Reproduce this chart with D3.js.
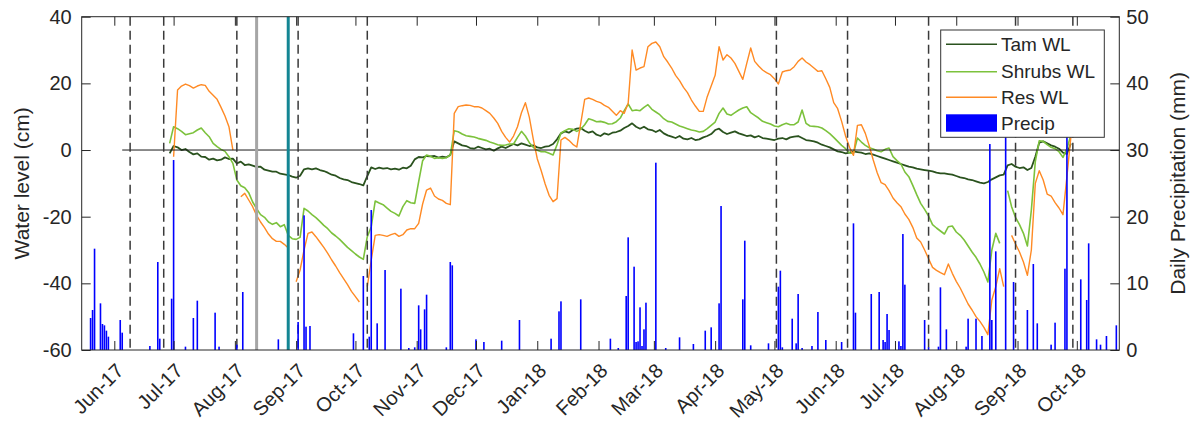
<!DOCTYPE html>
<html><head><meta charset="utf-8">
<script src="https://cdn.jsdelivr.net/npm/d3@7"></script>
<style>
body{margin:0;background:#fff;}
svg text{font-family:"Liberation Sans",Arial,Helvetica,sans-serif;fill:#262626;}
</style></head><body>
<svg id="chart" width="1194" height="431"></svg>
<script>
// ---------------- DATA ----------------
const xDomain = ["2017-05-15T12:00", "2018-10-22T12:00"];
const seriesStart = "2017-06-29";   // first water-level sample
const stepDays = 2;                  // samples every 2 days
// Water level (cm); null = gap in record
const tamWL = [
 -1.0, 1.2, 0.8, 0, 0.3, -0.6, -1.3, -1.0, -2.0, -2.1,
 -2.9, -2.6, -3.1, -2.9, -2.2, -2.7, -2.6, -4.0, -3.5, -4.5,
 -4.3, -4.7, -5.1, -5.0, -5.9, -6.2, -6.5, -6.5, -7.1, -7.3,
 -7.5, -8.0, -8.3, -7.7, -5.8, -5.5, -5.8, -5.5, -6.0, -6.3,
 -6.8, -7.4, -7.7, -8.4, -8.8, -9.0, -9.6, -9.9, -10.2, -10.6,
 -7.8, -5.2, -5.7, -5.3, -5.6, -5.4, -5.8, -5.6, -5.9, -5.3,
 -5.5, -4.7, -2.8, -2.1, -2.2, -1.8, -1.9, -1.8, -2.3, -2.0,
 -2.2, -1.5, 2.6, 2.0, 1.4, 1.2, 0.6, 0.4, 1.0, 0.6,
 0.2, 0.4, -0.2, 0.5, 1.0, 0.6, 1.2, 1.8, 1.4, 2.0,
 1.6, 1.2, 1.4, 0.8, 0.6, 1.0, 1.2, 1.8, 3.2, 5.0,
 5.6, 5.2, 6.0, 6.4, 6.6, 5.8, 5.2, 5.6, 4.6, 4.2,
 5.0, 4.6, 5.2, 5.4, 5.8, 6.6, 7.2, 8.0, 7.0, 6.4,
 7.0, 6.2, 6.0, 5.4, 6.0, 5.0, 4.4, 4.0, 3.6, 4.2,
 3.4, 3.2, 3.6, 3.0, 3.2, 3.8, 4.2, 4.8, 6.0, 6.4,
 5.4, 4.8, 5.2, 5.6, 5.0, 4.6, 4.2, 4.4, 3.8, 4.2,
 3.6, 3.4, 3.2, 3.0, 3.4, 3.6, 3.2, 3.8, 4.0, 4.2,
 3.6, 3.0, 2.8, 2.6, 2.2, 1.6, 1.2, 0.8, 0.2, -0.4,
 -0.6, -1.0, -0.8, -0.4, -0.6, -0.8, -1.2, -1.0, -1.4, -1.8,
 -2.2, -2.6, -3.0, -3.4, -3.8, -4.2, -4.6, -5.0, -5.2, -5.6,
 -5.8, -6.0, -6.2, -6.4, -6.8, -7.0, -7.0, -7.2, -7.4, -7.8,
 -8.2, -8.4, -8.8, -9.0, -9.4, -9.8, -10.0, -9.6, -8.8, -8.2,
 -7.6, -7.4, -4.6, -4.2, -5.0, -5.4, -5.2, -6.0, -5.4, -2.0,
 2.2, 2.6, 2.0, 1.4, 1.0, 0.4, -0.8, -1.2, 2.0
];
const shrubsWL = [
 2.0, 7.0, 6.4, 5.6, 4.6, 4.9, 5.2, 6.0, 6.6, 5.2,
 4.0, 2.0, 1.0, 0.2, -0.4, -2.0, -4.0, -9.0, -10.7, -11.3,
 -12.8, -15.6, -17.6, -19.4, -20.2, -21.6, -22.3, -21.8, -23.0, -22.4,
 -25.6, -26.6, -26.8, -26.2, -17.5, -18.3, -19.4, -20.3, -21.4, -22.6,
 -23.6, -24.9, -25.8, -26.8, -28.0, -29.2, -30.2, -31.2, -32.1, -32.8,
 -26.0, -23.0, -15.3, -15.9, -16.4, -17.4, -18.4, -19.0, -19.8, -17.0,
 -15.2, -15.8, -16.0, -9.5, -3.2, -1.5, -1.9, -2.5, -2.3, -2.5,
 -2.3, -1.5, 5.8, 5.5, 4.8, 4.3, 4.1, 3.9, 3.5, 3.2,
 2.9, 2.4, 2.0, 1.6, 1.4, 1.5, 1.8, 1.8, 3.8, 5.6,
 4.2, 2.2, 0.8, -0.1, -0.5, -0.5, -1.0, -1.5, 1.6, 5.1,
 5.8, 6.4, 6.2, 5.6, 6.2, 7.6, 9.4, 9.0, 8.5, 8.6,
 8.3, 7.8, 7.9, 8.5, 9.6, 11.8, 13.8, 11.8, 12.0, 11.8,
 12.8, 13.6, 12.2, 11.4, 10.6, 9.4, 8.6, 8.4, 7.8, 7.2,
 6.8, 6.4, 6.0, 5.8, 5.4, 5.6, 6.4, 7.4, 8.4, 11.0,
 12.6, 10.8, 10.4, 11.2, 12.0, 12.6, 13.0, 11.2, 10.4, 9.6,
 8.6, 8.2, 7.8, 7.2, 7.0, 7.6, 8.0, 7.6, 7.6, 8.4,
 12.0, 8.0, 7.2, 7.1, 7.0, 6.6, 5.8, 4.9, 3.8, 2.6,
 1.4, 0.4, -0.9, -1.0, 3.6, 2.4, 1.4, 0.7, 0.3, -0.2,
 -0.5, 0.2, 0.6, -2.0, -3.2, -4.2, -6.6, -8.0, -10.6, -13.4,
 -16.0, -17.8, -19.8, -22.4, -23.4, -24.3, -25.2, -23.0, -22.8, -24.6,
 -25.6, -27.0, -28.8, -30.6, -32.2, -34.2, -36.6, -39.6, -30.0, -25.0,
 -28.0, null, -12.2, -17.0, -20.2, -22.4, -25.0, -28.8, -18.0, -3.5,
 2.8, 2.6, 1.6, 0.8, 0.4, -0.5, -2.2, 0.4, 4.5
];
const resWL = [
 null, -2.0, 18.0, 19.2, 19.8, 19.3, 18.6, 19.2, 19.6, 19.4,
 17.6, 16.4, 15.2, 12.8, 10.2, 7.0, 0.0, null, -14.0, -13.0,
 -15.0, -17.0, -19.6, -21.6, -23.3, -25.2, -26.6, -27.4, -27.4, -28.3,
 -29.4, null, -39.5, -36.0, -30.0, -25.0, -24.6, -26.0, -27.6, -29.2,
 -31.0, -33.0, -34.8, -36.8, -38.6, -40.4, -42.4, -44.0, -45.6, null,
 -41.0, -33.0, -25.6, -25.4, -25.6, -25.9, -25.4, -25.0, -25.9, -25.4,
 -24.0, -23.6, -23.6, -22.0, -16.2, -12.0, -11.4, -13.8, -14.7, -15.1,
 -16.0, -16.4, 11.0, 13.0, 13.3, 13.5, 13.4, 13.0, 13.0, 12.6,
 11.8, 11.0, 9.6, 8.0, 5.6, 3.8, 2.4, 4.2, 7.0, 11.2,
 14.2, 9.8, 3.2, -2.6, -6.2, -10.2, -13.6, -15.5, -14.6, 3.0,
 3.8, 2.9, 1.7, 0.9, 8.0, 15.2, 15.6, 15.2, 14.6, 14.2,
 13.4, 12.8, 11.6, 10.4, 11.8, 11.0, 14.0, 30.0, 24.0, 24.6,
 25.0, 31.0, 32.0, 32.4, 31.0, 28.0, 26.4, 24.6, 22.4, 20.8,
 18.8, 17.2, 15.0, 13.2, 11.6, 11.6, 16.0, 19.2, 22.4, 31.0,
 27.0, 28.6, 27.6, 26.0, 23.6, 21.2, 26.0, 30.6, 26.6, 25.2,
 24.0, 23.2, 22.6, 21.4, 19.8, 23.4, 23.8, 24.0, 25.0, 26.6,
 27.6, 26.4, 25.6, 24.6, 23.6, 23.8, 21.4, 18.8, 14.2, 12.4,
 8.6, 4.2, 0.8, -1.6, 7.4, 7.6, 5.0, 1.2, -3.0, -6.8,
 -9.8, -10.4, -12.2, -14.4, -15.8, -17.0, -19.2, -20.8, -23.2, -26.4,
 -27.6, -30.0, -32.6, -35.2, -36.1, -36.8, -37.4, -34.2, -37.0, -39.4,
 -41.4, -43.8, -46.2, -48.0, -50.0, -51.4, -53.2, -55.4, -45.0, -41.0,
 -35.6, -41.0, null, -25.6, -28.2, -30.6, -33.6, -37.6, -30.0, -10.0,
 -6.2, -9.0, -13.2, -13.8, -15.8, -17.4, -19.4, -8.0, 4.0
];
// Daily precipitation (mm)
const precipDates = [
 "2017-05-20","2017-05-21","2017-05-22","2017-05-25","2017-05-26","2017-05-27","2017-05-28","2017-05-29",
 "2017-06-04","2017-06-05","2017-06-19","2017-06-23","2017-06-24","2017-06-30","2017-07-01","2017-07-07",
 "2017-07-11","2017-07-13","2017-07-22","2017-07-24","2017-08-02","2017-08-05","2017-08-23","2017-09-02",
 "2017-09-05","2017-09-06","2017-09-08","2017-09-30","2017-10-05","2017-10-08","2017-10-09","2017-10-12",
 "2017-10-16","2017-10-24","2017-10-28","2017-10-31","2017-11-02","2017-11-03","2017-11-05","2017-11-06",
 "2017-11-16","2017-11-18","2017-11-19","2017-12-01","2017-12-05","2017-12-14","2017-12-23","2018-01-08",
 "2018-01-12","2018-01-13","2018-01-23","2018-02-07","2018-02-11","2018-02-15","2018-02-16","2018-02-19",
 "2018-02-20","2018-02-21","2018-02-22","2018-02-23","2018-02-24","2018-02-25","2018-03-02","2018-03-07",
 "2018-03-14","2018-03-21","2018-03-27","2018-03-30","2018-04-03","2018-04-04","2018-04-15","2018-04-16",
 "2018-04-19","2018-04-28","2018-05-03","2018-05-04","2018-05-05","2018-05-10","2018-05-12","2018-05-13",
 "2018-05-15","2018-05-20","2018-05-23","2018-05-27","2018-06-04","2018-06-10","2018-06-11","2018-06-19",
 "2018-06-23","2018-06-25","2018-06-26","2018-06-27","2018-06-28","2018-07-03","2018-07-04","2018-07-05",
 "2018-07-06","2018-07-16","2018-07-18","2018-07-23","2018-07-24","2018-07-27","2018-08-06","2018-08-07",
 "2018-08-11","2018-08-14","2018-08-18","2018-08-19","2018-08-21","2018-08-26","2018-08-30","2018-09-06",
 "2018-09-09","2018-09-11","2018-09-18","2018-09-20","2018-09-25","2018-09-26","2018-10-03","2018-10-06",
 "2018-10-07","2018-10-11","2018-10-13","2018-10-16","2018-10-21"
];
const precipMM = [
 4.8, 6.0, 15.2, 7.0, 3.9, 3.7, 2.9, 2.0,
 4.5, 2.6, 0.6, 13.2, 1.7, 7.7, 28.5, 0.5,
 4.8, 7.4, 5.6, 0.5, 0.8, 8.7, 1.6, 4.2,
 20.2, 3.5, 3.6, 2.5, 11.1, 2.0, 21.0, 4.0,
 12.0, 9.2, 0.3, 0.4, 6.7, 3.1, 6.1, 8.3,
 0.4, 13.2, 12.7, 1.6, 1.2, 1.4, 4.5, 1.7,
 5.8, 7.3, 7.6, 1.7, 0.3, 8.1, 16.9, 12.5,
 1.2, 1.3, 6.4, 0.6, 3.1, 7.1, 28.1, 0.3,
 1.9, 0.9, 2.9, 3.4, 7.0, 21.6, 7.6, 16.4,
 0.7, 1.0, 9.5, 11.9, 0.4, 4.7, 1.0, 8.4,
 0.3, 0.6, 5.7, 1.5, 1.2, 19.0, 5.6, 8.4,
 8.7, 1.5, 1.2, 5.4, 3.0, 1.3, 0.6, 17.4,
 9.8, 4.5, 0.4, 0.5, 9.4, 3.1, 0.5, 4.7,
 4.7, 2.1, 30.9, 4.5, 14.8, 36.0, 10.2, 6.0,
 12.9, 4.0, 0.8, 4.1, 12.2, 34.0, 10.6, 7.5,
 16.0, 1.6, 0.8, 2.1, 3.7
];
const eventDates = ["2017-06-09","2017-06-26","2017-08-02","2017-09-02","2017-10-07",
                    "2018-05-02","2018-06-07","2018-07-18","2018-08-31","2018-09-29"];
const grayLineDate = "2017-08-12";
const tealLineDate = "2017-08-28";
const zeroLineStart = "2017-06-05";
const monthTickDates = ["2017-06-01","2017-07-01","2017-08-01","2017-09-01","2017-10-01","2017-11-01",
  "2017-12-01","2018-01-01","2018-02-01","2018-03-01","2018-04-01","2018-05-01","2018-06-01",
  "2018-07-01","2018-08-01","2018-09-01","2018-10-01"];
const monthTickLabels = ["Jun-17","Jul-17","Aug-17","Sep-17","Oct-17","Nov-17","Dec-17","Jan-18",
  "Feb-18","Mar-18","Apr-18","May-18","Jun-18","Jul-18","Aug-18","Sep-18","Oct-18"];
const leftTicks = [-60, -40, -20, 0, 20, 40];
const leftTickLabels = ["-60", "-40", "-20", "0", "20", "40"];
const rightTicks = [0, 10, 20, 30, 40, 50];
const rightTickLabels = ["0", "10", "20", "30", "40", "50"];
const legendLabels = ["Tam WL", "Shrubs WL", "Res WL", "Precip"];
const colors = {tam:"#2a521e", shrubs:"#7cc23c", res:"#ff8a24", precip:"#0000ff"};

// ---------------- CHART ----------------
const svg = d3.select("#chart");
const P = {l:81.7, r:1119.3, t:16.7, b:350};
const pd = s => s.length > 10 ? d3.utcParse("%Y-%m-%dT%H:%M")(s) : d3.utcParse("%Y-%m-%d")(s);
const x = d3.scaleUtc().domain(xDomain.map(pd)).range([P.l, P.r]);
const yL = d3.scaleLinear().domain([-60, 40]).range([P.b, P.t]);
const yR = d3.scaleLinear().domain([0, 50]).range([P.b, P.t]);

const t0 = pd(seriesStart);
const toSeries = arr => arr.map((v, i) => ({d: d3.utcDay.offset(t0, i * stepDays), v}));

const line = d3.line().defined(p => p.v !== null).x(p => x(p.d)).y(p => yL(p.v));

const gPlot = svg.append("g");
gPlot.append("path").datum(toSeries(tamWL)).attr("d", line)
  .attr("fill","none").attr("stroke",colors.tam).attr("stroke-width",1.8).attr("stroke-linejoin","round");
gPlot.append("path").datum(toSeries(shrubsWL)).attr("d", line)
  .attr("fill","none").attr("stroke",colors.shrubs).attr("stroke-width",1.6).attr("stroke-linejoin","round");
gPlot.append("path").datum(toSeries(resWL)).attr("d", line)
  .attr("fill","none").attr("stroke",colors.res).attr("stroke-width",1.4).attr("stroke-linejoin","round");

// zero line
gPlot.append("line").attr("x1", x(pd(zeroLineStart))).attr("x2", P.r)
  .attr("y1", yL(0)).attr("y2", yL(0)).attr("stroke","#1a1a1a").attr("stroke-width",1);

// event lines
gPlot.selectAll("line.ev").data(eventDates).join("line").attr("class","ev")
  .attr("x1", d => x(pd(d))).attr("x2", d => x(pd(d)))
  .attr("y1", P.t).attr("y2", P.b)
  .attr("stroke","#3a3a3a").attr("stroke-width",1.5).attr("stroke-dasharray","9,5");
gPlot.append("line").attr("x1", x(pd(grayLineDate))).attr("x2", x(pd(grayLineDate)))
  .attr("y1", P.t).attr("y2", P.b).attr("stroke","#a6a6a6").attr("stroke-width",3);
gPlot.append("line").attr("x1", x(pd(tealLineDate))).attr("x2", x(pd(tealLineDate)))
  .attr("y1", P.t).attr("y2", P.b).attr("stroke","#138593").attr("stroke-width",3);

// precipitation bars
const bw = 1.6;
gPlot.selectAll("rect.pr").data(precipDates.map((d,i)=>({d:pd(d), v:precipMM[i]}))).join("rect")
  .attr("class","pr")
  .attr("x", p => x(p.d) - bw/2).attr("width", bw)
  .attr("y", p => yR(p.v)).attr("height", p => P.b - yR(p.v))
  .attr("fill", colors.precip);

// axes
const axCol = "#262626";
const font = '"Liberation Sans",Arial,sans-serif';
const tickDates = monthTickDates.map(pd);
const gx = svg.append("g").attr("transform",`translate(0,${P.b})`)
  .call(d3.axisBottom(x).tickValues(tickDates).tickSizeInner(-9).tickSizeOuter(0)
    .tickFormat((d,i) => monthTickLabels[i]));
gx.select(".domain").remove();
gx.selectAll("line").attr("stroke", axCol);
gx.selectAll("text").attr("x",0).attr("y",0).attr("dy","0.35em")
  .attr("text-anchor","end").attr("transform","translate(5,17) rotate(-45)")
  .style("font-size","20px").style("font-family",font).attr("fill",axCol);

const gxt = svg.append("g").attr("transform",`translate(0,${P.t})`)
  .call(d3.axisTop(x).tickValues(tickDates).tickSizeInner(-9).tickSizeOuter(0).tickFormat(""));
gxt.select(".domain").remove();
gxt.selectAll("line").attr("stroke", axCol);

const gyl = svg.append("g").attr("transform",`translate(${P.l},0)`)
  .call(d3.axisLeft(yL).tickValues(leftTicks).tickSizeInner(-9).tickSizeOuter(0).tickPadding(10)
    .tickFormat((d,i) => leftTickLabels[i]));
gyl.select(".domain").remove();
gyl.selectAll("line").attr("stroke", axCol);
gyl.selectAll("text").style("font-size","20px").style("font-family",font).attr("fill",axCol);

const gyr = svg.append("g").attr("transform",`translate(${P.r},0)`)
  .call(d3.axisRight(yR).tickValues(rightTicks).tickSizeInner(-9).tickSizeOuter(0).tickPadding(7)
    .tickFormat((d,i) => rightTickLabels[i]));
gyr.select(".domain").remove();
gyr.selectAll("line").attr("stroke", axCol);
gyr.selectAll("text").style("font-size","20px").style("font-family",font).attr("fill",axCol);

// box
svg.append("rect").attr("x",P.l).attr("y",P.t).attr("width",P.r-P.l).attr("height",P.b-P.t)
  .attr("fill","none").attr("stroke",axCol).attr("stroke-width",1);

// axis titles
svg.append("text").attr("transform",`translate(29,${(P.t+P.b)/2}) rotate(-90)`)
  .attr("text-anchor","middle").style("font-size","21px").text("Water level (cm)");
svg.append("text").attr("transform",`translate(1185,${(P.t+P.b)/2}) rotate(-90)`)
  .attr("text-anchor","middle").style("font-size","21px").text("Daily Precipitation (mm)");

// legend
const L = {x:940.7, y:30, w:163.6, h:107.3};
const gl = svg.append("g");
gl.append("rect").attr("x",L.x).attr("y",L.y).attr("width",L.w).attr("height",L.h)
  .attr("fill","#fff").attr("stroke","#333").attr("stroke-width",1);
const rowsY = [44.3, 71.7, 97.3, 123.3];
const legCols = [colors.tam, colors.shrubs, colors.res];
legCols.forEach((c,i) => {
  gl.append("line").attr("x1",946).attr("x2",997).attr("y1",rowsY[i]).attr("y2",rowsY[i])
    .attr("stroke",c).attr("stroke-width",1.5);
});
gl.append("rect").attr("x",946).attr("y",114.3).attr("width",51).attr("height",17.4).attr("fill",colors.precip);
legendLabels.forEach((t,i) => {
  gl.append("text").attr("x",1001).attr("y",rowsY[i]).attr("dy","0.35em")
    .style("font-size","19px").text(t);
});
</script>
</body></html>
